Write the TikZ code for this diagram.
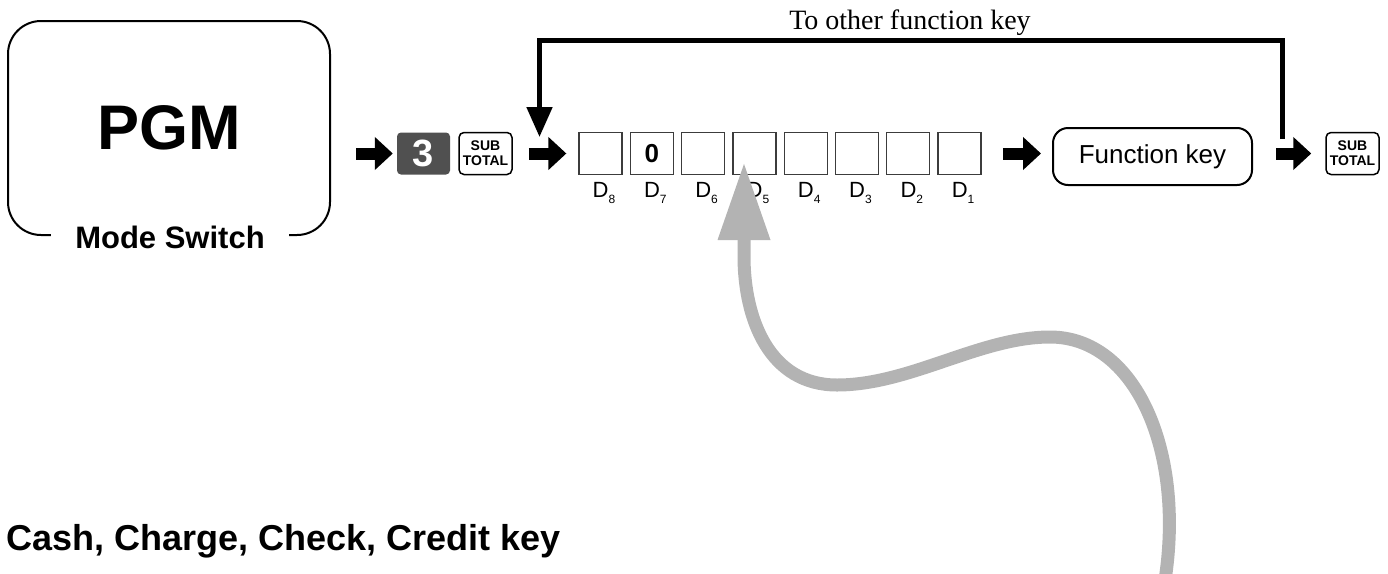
\documentclass[tikz,border=0pt]{standalone}
\usepackage{fontspec}
\setmainfont{Liberation Sans}
\newfontfamily\regserif{Liberation Serif}
\usetikzlibrary{arrows.meta}
\definecolor{keygray}{RGB}{80,80,80}
\definecolor{backgray}{RGB}{179,179,179}
\definecolor{boxline}{RGB}{60,60,60}
\newcommand{\pgmfont}{\bfseries\fontsize{63}{63}\selectfont}
\newcommand{\modefont}{\bfseries\fontsize{31}{31}\selectfont}
\newcommand{\keyfont}{\bfseries\fontsize{14}{15}\selectfont}
\newcommand{\digitfont}{\fontsize{22}{22}\selectfont}
\newcommand{\dsub}[1]{D\raisebox{-6pt}{\fontsize{12}{12}\selectfont #1}}
\tikzset{
    reg/chart/.style={x=1pt, y=-1pt, every node/.style={align=center}},
    reg/mode/.style={rectangle, rounded corners=33pt, draw=black, line width=2pt, minimum width=322pt, minimum height=214pt, font=\pgmfont},
    reg/modename/.style={fill=white, font=\modefont, inner xsep=24pt, inner ysep=2pt},
    reg/numkey/.style={rectangle, rounded corners=4pt, fill=keygray, text=white, font=\bfseries\fontsize{38}{38}\selectfont, minimum width=53pt, minimum height=42pt, inner sep=0pt},
    reg/subkey/.style={rectangle, rounded corners=5pt, draw=black, line width=1.5pt, font=\keyfont, minimum width=53pt, minimum height=42pt, inner sep=0pt},
    reg/digit/.style={rectangle, draw=boxline, line width=1.3pt, minimum width=43pt, minimum height=42pt, inner sep=0pt},
    reg/zero/.style={font=\bfseries\fontsize{26}{26}\selectfont, inner sep=0pt},
    reg/dname/.style={font=\digitfont, inner sep=0pt},
    reg/fkey/.style={rectangle, rounded corners=15pt, draw=black, line width=2pt, minimum width=199pt, minimum height=57pt, font=\fontsize{26}{26}\selectfont},
    reg/push/.style={draw=black, line width=12pt, -{Triangle[length=18pt,width=32pt]}},
    reg/loop/.style={draw=black, line width=5pt, line join=miter, -{Triangle[length=30pt,width=25pt]}},
    reg/back/.style={draw=backgray, line width=13pt, -{Triangle[length=78pt,width=49pt]}},
    reg/note/.style={font=\regserif\fontsize{28}{28}\selectfont, inner sep=0pt},
    reg/title/.style={font=\bfseries\fontsize{36}{36}\selectfont, inner sep=0pt}
}
\begin{document}
\begin{tikzpicture}[reg/chart]
    \useasboundingbox (0,0) rectangle (1388,573);
    \node[reg/mode] (pgm) at (169,128) {PGM};
    \node[reg/modename] (modesw) at (170,237) {Mode Switch};
    \node[reg/numkey] (key3) at (423.5,153.5) {3};
    \node[reg/subkey] (sub1) at (485.5,153.5) {SUB\\TOTAL};
    \foreach \i/\d in {0/8,1/7,2/6,3/5,4/4,5/3,6/2,7/1} {
        \node[reg/digit] (d\d) at ({600.5+51.3*\i},153.5) {};
        \node[reg/dname, anchor=base] (n\d) at ({604+51.3*\i},197) {\dsub{\d}};
    }
    \node[reg/zero] (zero) at (d7) {0};
    \node[reg/fkey] (fkey) at (1152.5,156.5) {Function key};
    \node[reg/subkey] (sub2) at (1352.5,153.5) {SUB\\TOTAL};
    \node[reg/note, anchor=base] (loopnote) at (910,29) {To other function key};
    \node[reg/title, anchor=base west] (tenders) at (6,550) {Cash, Charge, Check, Credit key};
    \coordinate (loopout) at (1282.5,139);
    \coordinate (loopin) at (539.5,137);
    \coordinate (backstart) at (1165,580);
    \coordinate (backend) at (744,162);
    \draw[reg/push, shorten <=25pt, shorten >=4pt] (pgm.east |- key3.west) -- (key3.west);
    \draw[reg/push, shorten <=16pt, shorten >=12pt] (sub1.east) -- (d8.west);
    \draw[reg/push, shorten <=21pt, shorten >=11pt] (d1.east) -- (fkey.west |- d1.east);
    \draw[reg/push, shorten <=23pt, shorten >=14pt] (fkey.east |- sub2.west) -- (sub2.west);
    \draw[reg/loop] (loopout) -- ++(0,-98.5) -| (loopin);
    \draw[reg/back] (backstart) .. controls (1185,450) and (1135,337) .. (1050,337)
        .. controls (980,337) and (910,385) .. (837,385)
        .. controls (770,385) and (744,320) .. (744,256) -- (backend);
\end{tikzpicture}
\end{document}
